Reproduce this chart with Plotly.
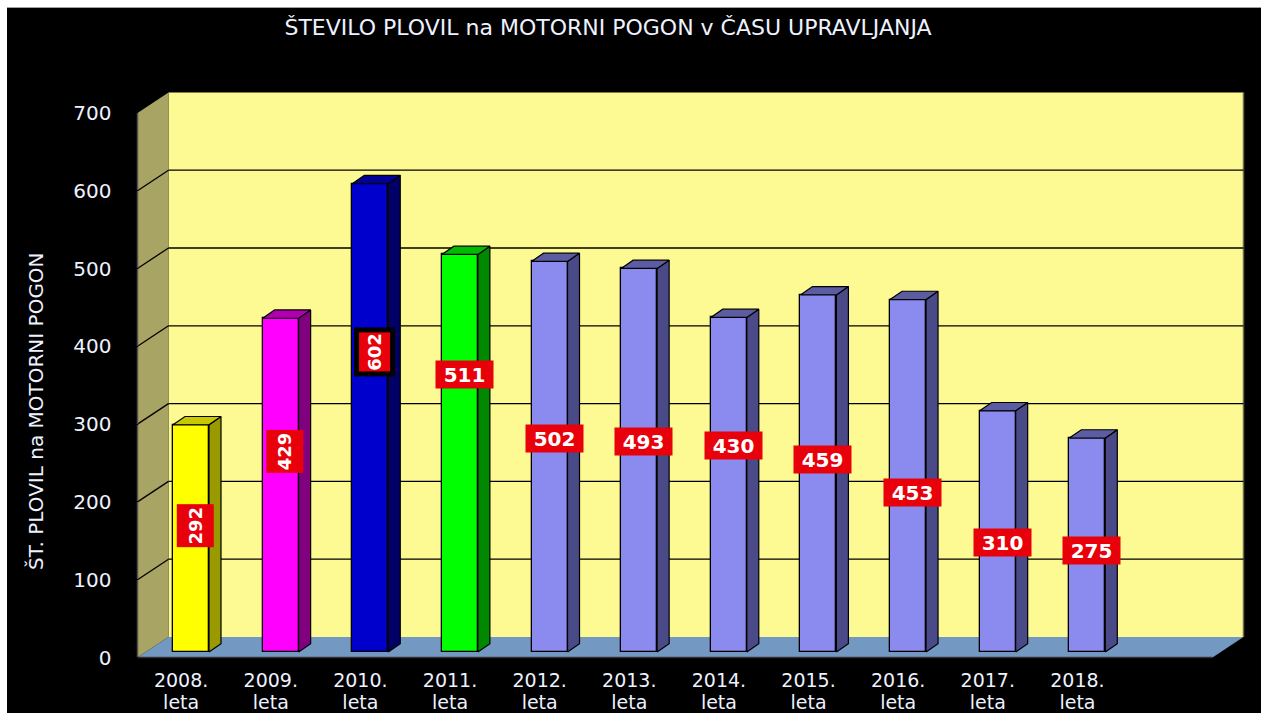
import plotly.graph_objects as go

# ---------------- data ----------------
categories = ["2008.", "2009.", "2010.", "2011.", "2012.", "2013.",
              "2014.", "2015.", "2016.", "2017.", "2018."]
category_suffix = "leta"
values = [292, 429, 602, 511, 502, 493, 430, 459, 453, 310, 275]
y_tick_values = [0, 100, 200, 300, 400, 500, 600, 700]
title_text = "ŠTEVILO PLOVIL na MOTORNI POGON v ČASU UPRAVLJANJA"
y_title_text = "ŠT. PLOVIL na MOTORNI POGON"

# data-label placement (value units on the bar plane) and style
label_y = [163, 258, 386, 357, 275, 270, 265, 248, 205, 141, 131]
label_vertical = [True, True, True, False, False, False, False, False, False, False, False]
label_framed = [False, False, True, False, False, False, False, False, False, False, False]

# ---------------- styles ----------------
front_colors = ["#ffff00", "#ff00ff", "#0000cc", "#00ff00"] + ["#8a8aef"] * 7
side_colors = ["#999900", "#800080", "#000066", "#008800"] + ["#4a4a88"] * 7
top_colors = ["#c8c800", "#b000b0", "#000099", "#00bb00"] + ["#5c5ca2"] * 7
WALL_BACK = "#fdf993"
WALL_LEFT = "#a8a463"
FLOOR = "#7398c2"
TEXT = "#eef2ff"
LABEL_RED = "#e8000b"
FONT = "DejaVu Sans"

# ---------------- geometry (pixels -> axis units) ----------------
W, H = 1261, 713
PLOT_H = H
PX_CAT = 89.63      # pixels per category
PX_VAL = 0.778      # pixels per value unit
X0_PX = 191.0       # pixel of first category centre
BASE_PX = 652.0     # pixel of value 0 on the bar plane
XAXIS1_PX = 666     # pixel row of the first category-label line axis
XAXIS2_PX = 688     # pixel row of the second category-label line axis

x_range = [(0 - X0_PX) / PX_CAT, (W - X0_PX) / PX_CAT]
y_range = [(BASE_PX - PLOT_H) / PX_VAL, BASE_PX / PX_VAL]
FRONT_PX = BASE_PX + 5.5
y2_range = [(FRONT_PX - PLOT_H) / PX_VAL, FRONT_PX / PX_VAL]

bar_w = 36 / PX_CAT
bar_dx = 12 / PX_CAT
bar_dy = 8.3 / PX_VAL
front_x = (137.5 - X0_PX) / PX_CAT
front_dy = -5.5 / PX_VAL
depth_dx = 31 / PX_CAT
depth_dy = 20.5 / PX_VAL
right_back_x = (1243.5 - X0_PX) / PX_CAT
ymax = max(y_tick_values)


def front(v):
    return front_x, v + front_dy


def back(v):
    return front_x + depth_dx, v + front_dy + depth_dy


n = len(values)
xs_idx = list(range(n))

shapes = []
# top white strip and left white strip (screenshot frame)
shapes.append(dict(type="rect", xref="paper", yref="paper", x0=-0.01, x1=1.01,
                   y0=1 - 8 / PLOT_H, y1=1.02, fillcolor="white", line_width=0, layer="above"))
shapes.append(dict(type="line", xref="paper", yref="paper", x0=7 / W, x1=1.01,
                   y0=1 - 7.5 / PLOT_H, y1=1 - 7.5 / PLOT_H, line=dict(color="#a0a0a0", width=1), layer="above"))
shapes.append(dict(type="rect", xref="paper", yref="paper", x0=-0.01, x1=7 / W,
                   y0=-0.02, y1=1.02, fillcolor="white", line_width=0, layer="above"))

# back wall
bx0, by0 = back(0)
bx1, by1 = back(ymax)
shapes.append(dict(type="rect", xref="x", yref="y", x0=bx0, x1=right_back_x, y0=by0, y1=by1,
                   fillcolor=WALL_BACK, line_width=0, layer="below"))
shapes.append(dict(type="line", xref="x", yref="y", x0=right_back_x, x1=right_back_x, y0=by0, y1=by1,
                   line=dict(color="#6b6b55", width=1.5), layer="below"))
# left wall
f0 = front(0); f7 = front(ymax); b0 = back(0); b7 = back(ymax)
shapes.append(dict(type="path", xref="x", yref="y",
                   path=f"M {f0[0]},{f0[1]} L {f7[0]},{f7[1]} L {b7[0]},{b7[1]} L {b0[0]},{b0[1]} Z",
                   fillcolor=WALL_LEFT, line_width=0, layer="below"))
# floor
fr = (right_back_x - depth_dx, f0[1])
br = (right_back_x, b0[1])
shapes.append(dict(type="path", xref="x", yref="y",
                   path=f"M {f0[0]},{f0[1]} L {fr[0]},{fr[1]} L {br[0]},{br[1]} L {b0[0]},{b0[1]} Z",
                   fillcolor=FLOOR, line_width=0, layer="below"))
# gridlines on back and left walls
for v in y_tick_values[1:-1]:
    fv = front(v); bv = back(v)
    shapes.append(dict(type="line", xref="x", yref="y", x0=fv[0], y0=fv[1], x1=bv[0], y1=bv[1],
                       line=dict(color="black", width=1.3), layer="below"))
    shapes.append(dict(type="line", xref="x", yref="y", x0=bv[0], y0=bv[1], x1=right_back_x, y1=bv[1],
                       line=dict(color="black", width=1.3), layer="below"))
# front axis line and base line
shapes.append(dict(type="line", xref="x", yref="y", x0=f0[0], y0=f0[1], x1=f7[0], y1=f7[1],
                   line=dict(color="#505050", width=1.5), layer="below"))
shapes.append(dict(type="line", xref="x", yref="y", x0=f0[0], y0=f0[1], x1=fr[0], y1=fr[1],
                   line=dict(color="#303030", width=1.5), layer="below"))

fig = go.Figure()

# front faces
fig.add_trace(go.Bar(x=xs_idx, y=values, width=bar_w,
                     marker=dict(color=front_colors, line=dict(color="black", width=1.3)),
                     hoverinfo="skip", showlegend=False))

# side and top faces
for i, v in enumerate(values):
    r = i + bar_w / 2
    l = i - bar_w / 2
    fig.add_trace(go.Scatter(
        x=[r, r + bar_dx, r + bar_dx, r, r], y=[0, bar_dy, v + bar_dy, v, 0],
        mode="lines", fill="toself", fillcolor=side_colors[i],
        line=dict(color="black", width=1.2), hoverinfo="skip", showlegend=False))
    fig.add_trace(go.Scatter(
        x=[l, l + bar_dx, r + bar_dx, r, l], y=[v, v + bar_dy, v + bar_dy, v, v],
        mode="lines", fill="toself", fillcolor=top_colors[i],
        line=dict(color="black", width=1.2), hoverinfo="skip", showlegend=False))

# carrier traces for the front value axis and the second category-label line
fig.add_trace(go.Scatter(x=[None], y=[None], yaxis="y2", showlegend=False, hoverinfo="skip"))
fig.add_trace(go.Scatter(x=[None], y=[None], xaxis="x2", showlegend=False, hoverinfo="skip"))

annotations = []
for i, v in enumerate(values):
    if label_vertical[i]:
        a = dict(textangle=-90, width=42, height=36, font=dict(family=FONT, size=18, color="white", weight="bold"))
        if label_framed[i]:
            a.update(width=39, height=31, bordercolor="black", borderwidth=5)
    else:
        a = dict(textangle=0, width=57, height=27, font=dict(family=FONT, size=20, color="white", weight="bold"))
    a.update(x=i + 0.05, y=label_y[i], xref="x", yref="y", text=str(v), showarrow=False,
             bgcolor=LABEL_RED, borderpad=0, xanchor="center", yanchor="middle")
    annotations.append(a)

annotations.append(dict(text=y_title_text, xref="paper", yref="paper",
                        x=36 / W, y=1 - 411 / PLOT_H, textangle=-90, showarrow=False,
                        xanchor="center", yanchor="middle",
                        font=dict(family=FONT, size=20, color=TEXT)))

tick_font = dict(family=FONT, size=19, color=TEXT)
tick_pos = [i - 0.11 for i in xs_idx]

fig.update_layout(
    width=W, height=H,
    margin=dict(l=0, r=0, t=0, b=0, autoexpand=False),
    paper_bgcolor="black", plot_bgcolor="black",
    title=dict(text=title_text, x=608 / W, xanchor="center", y=1 - 27 / H, yanchor="middle",
               font=dict(family=FONT, size=22, color=TEXT)),
    xaxis=dict(range=x_range, showgrid=False, zeroline=False, showline=False,
               anchor="free", position=1 - XAXIS1_PX / PLOT_H,
               tickmode="array", tickvals=tick_pos, ticktext=categories,
               tickfont=tick_font, ticks="", ticklabelstandoff=1),
    xaxis2=dict(range=x_range, overlaying="x", showgrid=False, zeroline=False, showline=False,
                anchor="free", position=1 - XAXIS2_PX / PLOT_H, side="bottom",
                tickmode="array", tickvals=tick_pos, ticktext=[category_suffix] * n,
                tickfont=tick_font, ticks="", ticklabelstandoff=1),
    yaxis=dict(range=y_range, visible=False, showgrid=False, zeroline=False),
    yaxis2=dict(range=y2_range, overlaying="y", anchor="free", position=137.5 / W, side="left",
                tickmode="array", tickvals=y_tick_values, showgrid=False, zeroline=False,
                showline=False, ticks="outside", ticklen=22, tickcolor="black",
                tickfont=dict(family=FONT, size=20, color=TEXT)),
    shapes=shapes,
    annotations=annotations,
    showlegend=False,
    bargap=0,
)

fig.write_html(
    "out.html",
    config={"displayModeBar": False},
    post_script="document.body.style.margin='0';document.documentElement.style.overflow='hidden';document.body.style.overflow='hidden';",
)
